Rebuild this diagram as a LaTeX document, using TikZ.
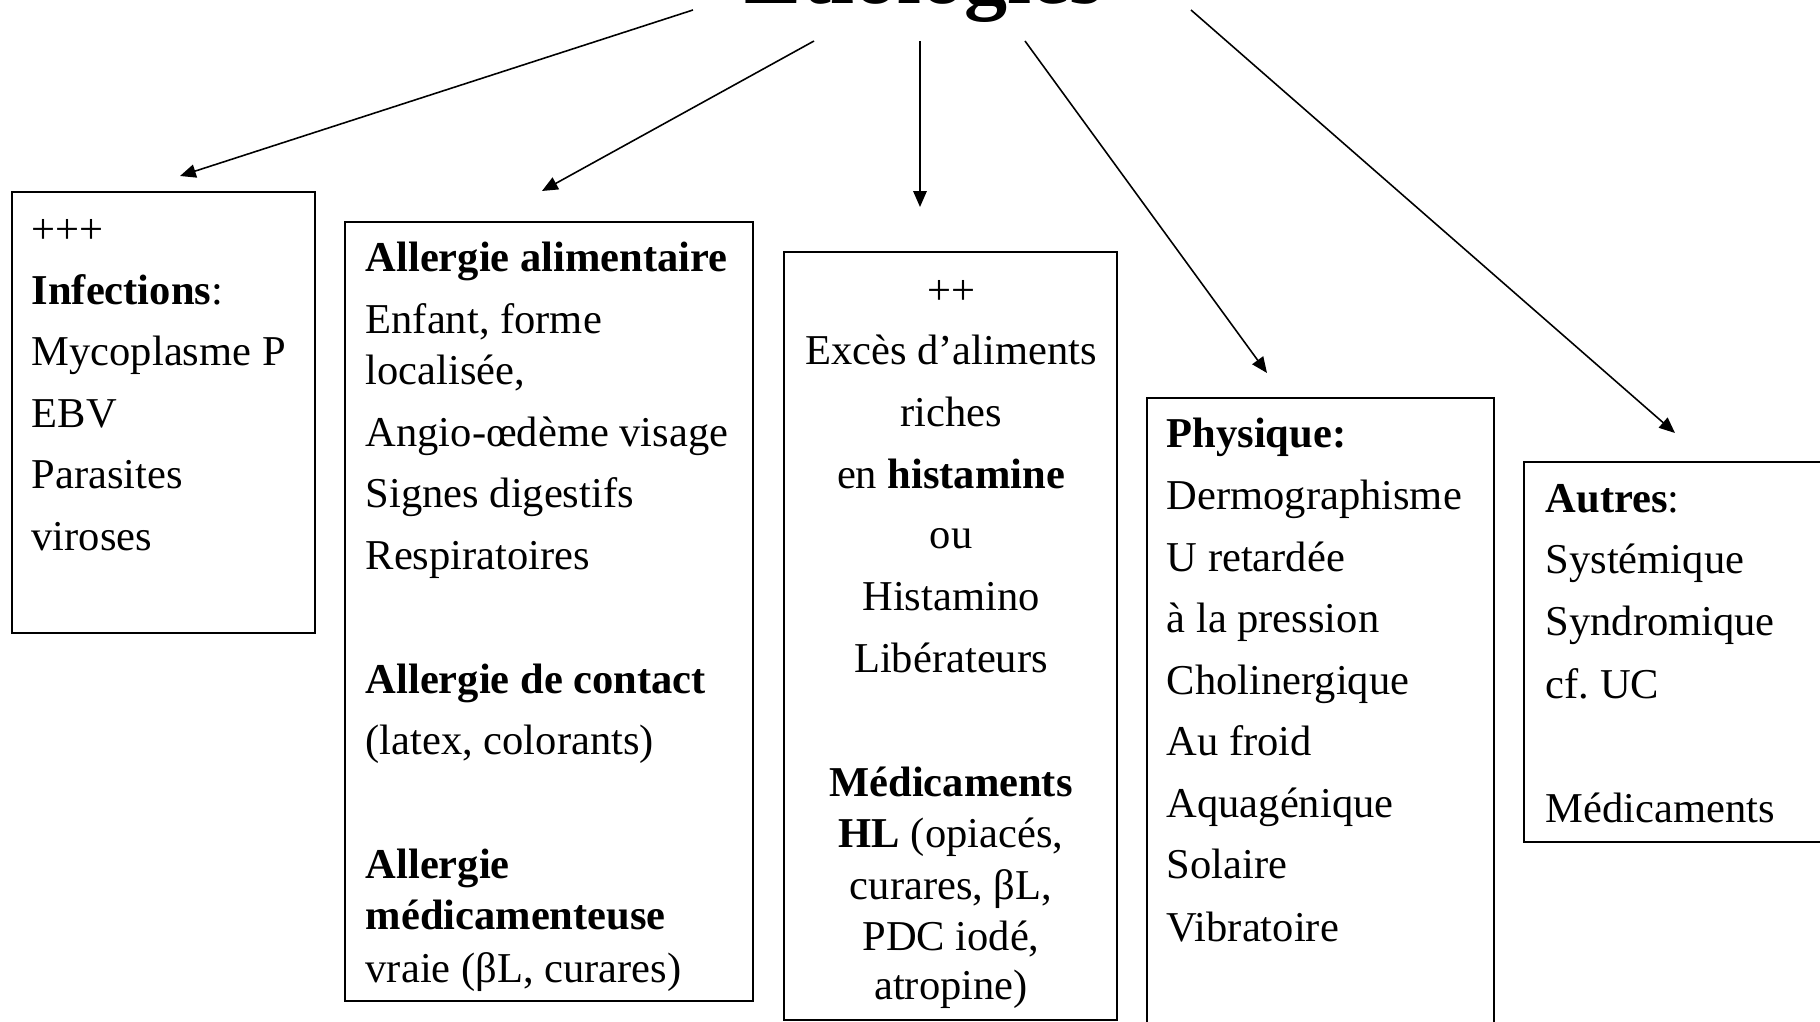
\documentclass[tikz,border=0pt]{standalone}
\usepackage{fontspec}
\setmainfont{Liberation Serif}
\usetikzlibrary{arrows.meta}

\tikzset{
    boite/.style={draw, line width=0.7pt, anchor=north west, inner sep=0pt, outer sep=0pt},
    ligne/.style={anchor=base west, inner sep=0pt, font=\fontsize{12.1}{14}\selectfont},
    lignec/.style={ligne, anchor=base},
    fleche/.style={line width=0.45pt, -{Triangle[length=4.5pt,width=3.8pt]}},
}

\begin{document}
\begin{tikzpicture}[x=1cm, y=-1cm]
    \useasboundingbox (0,0) rectangle (18.2,10.22);

    % Titre
    \node[anchor=base, inner sep=0pt, font=\fontsize{24.5}{28}\selectfont\bfseries] (titre) at (9.24,0.04) {Etiologies};

    % Cadres
    \node[boite, minimum width=3.03cm, minimum height=4.41cm] (infections) at (0.12,1.92) {};
    \node[boite, minimum width=4.08cm, minimum height=7.79cm] (allergies) at (3.45,2.22) {};
    \node[boite, minimum width=3.33cm, minimum height=7.68cm] (histamine) at (7.84,2.52) {};
    \node[boite, minimum width=3.47cm, minimum height=6.80cm] (physique) at (11.47,3.98) {};
    \node[boite, minimum width=3.40cm, minimum height=3.80cm] (autres) at (15.24,4.62) {};

    % Textes
    \foreach \y/\t [count=\i] in {2.44/+++, 3.05/{\textbf{Infections}:}, 3.66/Mycoplasme P,
            4.28/EBV, 4.89/Parasites, 5.51/viroses}
        \node[ligne] (inf-\i) at (0.31,\y) {\t};

    \foreach \y/\t [count=\i] in {2.72/{\textbf{Allergie alimentaire}}, 3.34/{Enfant, forme},
            3.85/{localisée,}, 4.47/Angio-œdème visage, 5.08/Signes digestifs,
            5.70/Respiratoires, 6.94/{\textbf{Allergie de contact}}, 7.55/{(latex, colorants)},
            8.79/{\textbf{Allergie}}, 9.30/{\textbf{médicamenteuse}}, 9.82/{vraie (βL, curares)}}
        \node[ligne] (all-\i) at (3.65,\y) {\t};

    \foreach \y/\t [count=\i] in {3.05/++, 3.65/{Excès d’aliments}, 4.27/riches,
            4.88/{en \textbf{histamine}}, 5.49/ou, 6.11/Histamino, 6.73/Libérateurs,
            7.97/{\textbf{Médicaments}}, 8.48/{\textbf{HL} (opiacés,}, 8.99/{curares, βL,},
            9.50/{PDC iodé,}, 10.00/{atropine)}}
        \node[lignec] (his-\i) at (9.51,\y) {\t};

    \foreach \y/\t [count=\i] in {4.48/{\textbf{Physique:}}, 5.10/Dermographisme,
            5.72/U retardée, 6.33/à la pression, 6.95/Cholinergique, 7.56/Au froid,
            8.18/Aquagénique, 8.79/Solaire, 9.41/Vibratoire}
        \node[ligne] (phy-\i) at (11.66,\y) {\t};

    \foreach \y/\t [count=\i] in {5.13/{\textbf{Autres}:}, 5.74/Systémique, 6.36/Syndromique,
            6.98/{cf.\ UC}, 8.22/Médicaments}
        \node[ligne] (aut-\i) at (15.45,\y) {\t};

    % Flèches
    \coordinate (d1) at (6.93,0.10);  \coordinate (f1) at (1.80,1.76);
    \coordinate (d2) at (8.14,0.41);  \coordinate (f2) at (5.42,1.91);
    \coordinate (d3) at (9.20,0.41);  \coordinate (f3) at (9.20,2.07);
    \coordinate (d4) at (10.25,0.41); \coordinate (f4) at (12.67,3.73);
    \coordinate (d5) at (11.91,0.10); \coordinate (f5) at (16.75,4.33);
    \foreach \k in {1,...,5}
        \draw[fleche] (d\k) -- (f\k);
\end{tikzpicture}
\end{document}
